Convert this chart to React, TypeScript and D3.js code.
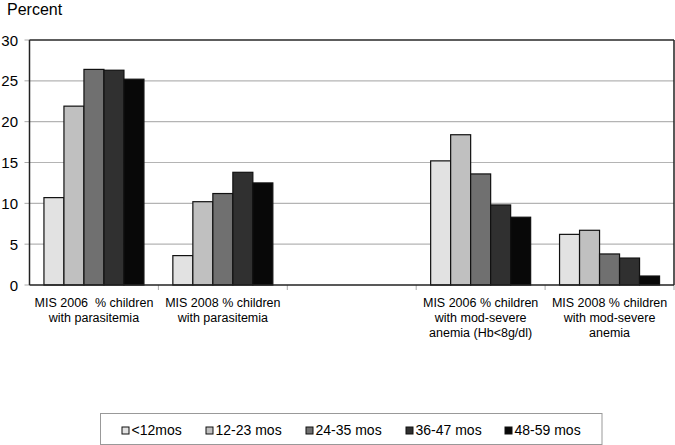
import React from "react";
import * as d3 from "d3";

const categories = [
  ["MIS 2006  % children", "with parasitemia"],
  ["MIS 2008 % children", "with parasitemia"],
  [],
  ["MIS 2006 % children", "with mod-severe", "anemia (Hb<8g/dl)"],
  ["MIS 2008 % children", "with mod-severe", "anemia"],
];
const seriesNames = ["<12mos", "12-23 mos", "24-35 mos", "36-47 mos", "48-59 mos"];
const seriesColors = ["#e2e2e2", "#c0c0c0", "#707070", "#303030", "#080808"];
const lt12 = [10.7, 3.6, null, 15.2, 6.2];
const m12to23 = [21.9, 10.2, null, 18.4, 6.7];
const m24to35 = [26.4, 11.2, null, 13.6, 3.8];
const m36to47 = [26.3, 13.8, null, 9.8, 3.3];
const m48to59 = [25.2, 12.5, null, 8.3, 1.1];
const seriesValues = [lt12, m12to23, m24to35, m36to47, m48to59];
const yTicks = [0, 5, 10, 15, 20, 25, 30];
const legendX = [122, 206, 306, 406, 505];

const FONT = "'Liberation Sans', Arial, sans-serif";

export default function App() {
  const W = 675, H = 445;
  const x0 = 29.5, x1 = 674, yT = 40, yB = 285;
  const band = d3.scaleBand<number>().domain(categories.map((_, i) => i)).range([x0, x1]).paddingInner(0).paddingOuter(0);
  const y = d3.scaleLinear().domain([0, 30]).range([yB, yT]);
  const bw = band.bandwidth();
  const barW = 20;
  const groupOff = (bw - barW * 5) / 2;

  return (
    <svg width={W} height={H} style={{ position: "absolute", left: 0, top: 0, fontFamily: FONT }}>
      <rect x={0} y={0} width={W} height={H} fill="#fff" />
      <text x={7} y={15} fontSize={16} fill="#000">Percent</text>
      {yTicks.map((t) => (
        <g key={t}>
          {t > 0 && <line x1={x0} x2={x1} y1={y(t)} y2={y(t)} stroke="#b4b4b4" strokeWidth={1.2} />}
          <line x1={x0 - 5} x2={x0} y1={y(t)} y2={y(t)} stroke="#aaa" strokeWidth={1} />
          <text x={18} y={y(t) + 5.5} textAnchor="end" fontSize={15} fill="#000">{t}</text>
        </g>
      ))}
      {categories.map((_, i) => (
        <line key={i} x1={band(i)! + bw} x2={band(i)! + bw} y1={yB} y2={yB + 5} stroke="#aaa" strokeWidth={1} />
      ))}
      {seriesValues.map((vals, s) =>
        vals.map((v, i) =>
          v == null ? null : (
            <rect
              key={`${s}-${i}`}
              x={band(i)! + groupOff + s * barW}
              y={y(v)}
              width={barW}
              height={yB - y(v)}
              fill={seriesColors[s]}
              stroke="#111"
              strokeWidth={1.2}
            />
          )
        )
      )}
      <line x1={x0} x2={x0} y1={yT} y2={yB} stroke="#222" strokeWidth={1.5} />
      <line x1={x0} x2={x1} y1={yT} y2={yT} stroke="#333" strokeWidth={1.5} />
      <line x1={x1} x2={x1} y1={yT} y2={yB} stroke="#222" strokeWidth={1.5} />
      <line x1={x0} x2={x1} y1={yB} y2={yB} stroke="#222" strokeWidth={1.5} />
      {categories.map((lines, i) => (
        <text key={i} textAnchor="middle" fontSize={12.5} fill="#000">
          {lines.map((l, j) => (
            <tspan key={j} x={band(i)! + bw / 2} y={307 + j * 15} style={{ whiteSpace: "pre" }}>{l}</tspan>
          ))}
        </text>
      ))}
      <rect x={100.5} y={413.5} width={501.5} height={31} fill="#fff" stroke="#999" strokeWidth={1} />
      {seriesNames.map((n, s) => (
        <g key={n}>
          <rect x={legendX[s]} y={427} width={7} height={7} fill={seriesColors[s]} stroke="#111" strokeWidth={1} />
          <text x={legendX[s] + 9.5} y={435} fontSize={14} fill="#000">{n}</text>
        </g>
      ))}
    </svg>
  );
}
